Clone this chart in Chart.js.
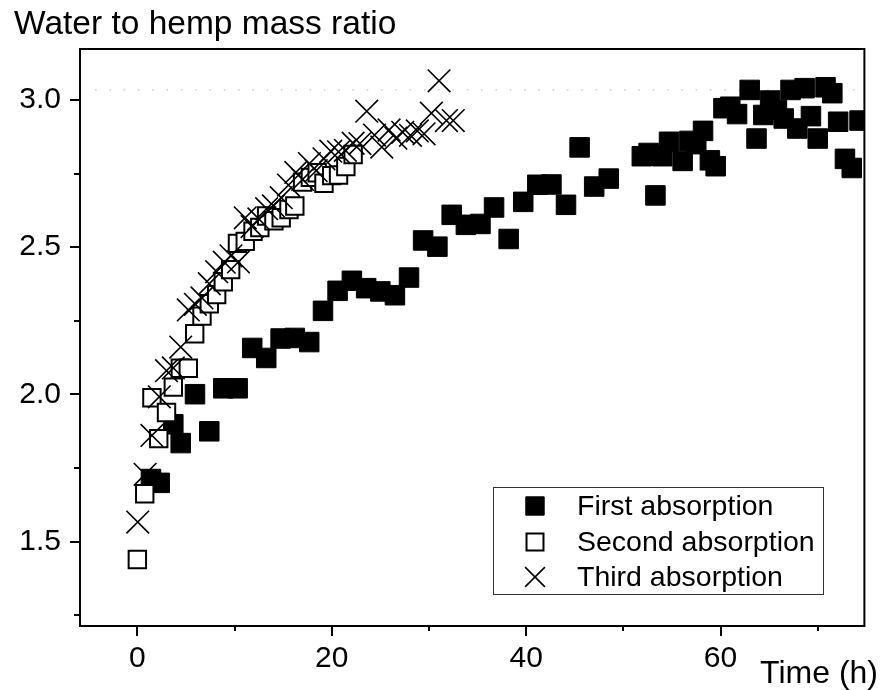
<!DOCTYPE html>
<html>
<head>
<meta charset="utf-8">
<script src="https://cdn.jsdelivr.net/npm/chart.js@4"></script>
<style>
  html, body { margin: 0; padding: 0; background: #ffffff; }
  #wrap { width: 882px; height: 690px; position: relative; }
</style>
</head>
<body>
<div id="wrap"><canvas id="c" width="882" height="690"></canvas></div>
<script>
// ---- Data ----
const chartTitle = 'Water to hemp mass ratio';
const xAxisTitle = 'Time (h)';
const seriesNames = ['First absorption', 'Second absorption', 'Third absorption'];

const firstX = [1.4, 2.3, 3.7, 4.46, 5.93, 7.4, 8.84, 10.32, 11.82, 13.26, 14.74, 16.2, 17.68, 19.1, 20.6, 22.07, 23.54, 25.0, 26.5, 27.95, 29.4, 30.87, 32.34, 33.8, 35.3, 36.7, 38.2, 39.7, 41.15, 42.6, 44.1, 45.5, 47.0, 48.5, 51.9, 52.6, 53.3, 54.0, 54.7, 56.1, 56.8, 57.5, 58.2, 58.9, 59.5, 60.3, 61.0, 61.7, 63.0, 63.7, 64.4, 65.1, 65.8, 66.5, 67.2, 67.9, 68.65, 69.3, 70.0, 70.8, 71.5, 72.1, 72.8, 73.5, 74.3];
const firstY = [1.713, 1.70, 1.899, 1.835, 2.001, 1.875, 2.021, 2.021, 2.158, 2.124, 2.19, 2.192, 2.178, 2.284, 2.352, 2.386, 2.361, 2.35, 2.337, 2.397, 2.523, 2.502, 2.61, 2.576, 2.579, 2.635, 2.528, 2.654, 2.712, 2.713, 2.644, 2.839, 2.706, 2.733, 2.809, 2.82, 2.676, 2.809, 2.858, 2.793, 2.861, 2.85, 2.895, 2.795, 2.775, 2.972, 2.977, 2.952, 3.034, 2.869, 2.949, 2.998, 2.966, 2.937, 3.034, 2.903, 3.04, 2.945, 2.869, 3.043, 3.023, 2.926, 2.80, 2.769, 2.93];

const secondX = [0, 0.76, 1.5, 2.2, 3.0, 3.7, 4.42, 5.24, 5.9, 6.65, 7.4, 8.16, 8.84, 9.6, 10.3, 11.1, 11.9, 12.6, 13.3, 14.05, 14.8, 15.6, 16.2, 17.0, 17.8, 18.5, 19.2, 20.0, 20.7, 21.45, 22.2];
const secondY = [1.44, 1.663, 1.989, 1.85, 1.939, 2.025, 2.089, 2.089, 2.206, 2.266, 2.308, 2.339, 2.383, 2.424, 2.513, 2.52, 2.554, 2.567, 2.606, 2.59, 2.60, 2.628, 2.64, 2.721, 2.737, 2.753, 2.717, 2.743, 2.745, 2.774, 2.815];

const thirdX = [0.04, 0.8, 1.5, 2.26, 3.0, 3.7, 4.46, 5.24, 5.97, 6.65, 7.4, 8.16, 8.94, 9.63, 10.4, 11.1, 11.8, 12.5, 13.3, 14.0, 14.8, 15.55, 16.3, 17.0, 17.7, 18.4, 19.2, 19.9, 20.7, 21.4, 22.2, 22.9, 23.6, 24.4, 25.15, 25.9, 26.6, 27.3, 28.1, 28.8, 29.5, 30.25, 31.04, 31.8, 32.5];
const thirdY = [1.567, 1.729, 1.861, 1.992, 2.081, 2.09, 2.161, 2.287, 2.306, 2.328, 2.376, 2.417, 2.449, 2.471, 2.45, 2.60, 2.57, 2.596, 2.631, 2.64, 2.668, 2.711, 2.754, 2.73, 2.784, 2.76, 2.80, 2.826, 2.824, 2.829, 2.853, 2.852, 2.962, 2.881, 2.84, 2.898, 2.87, 2.89, 2.88, 2.895, 2.885, 2.955, 3.065, 2.93, 2.93];

// dotted reference line near the top
const refLineX = [-4.35, 74.6];
const refLineY = [3.034, 3.034];

// axis ranges and ticks
const xMin = -5.9, xMax = 74.8, xMajor = 20, xMinorTicks = [10, 30, 50, 70];
const yMin = 1.214, yMax = 3.173, yMajor = 0.5, yMinorTicks = [1.25, 1.75, 2.25, 2.75];

const FONT = "'Liberation Sans', Arial, Helvetica, sans-serif";
const toPts = (xs, ys) => xs.map((x, i) => ({ x: x, y: ys[i] }));

// ---- plugins ----
const framePlugin = {
  id: 'frame',
  afterDraw(chart) {
    const { ctx, chartArea: a, scales } = chart;
    ctx.save();
    // frame
    ctx.strokeStyle = '#000';
    ctx.lineWidth = 2;
    ctx.strokeRect(a.left, a.top, a.right - a.left, a.bottom - a.top);
    // minor ticks
    ctx.lineWidth = 2;
    ctx.beginPath();
    xMinorTicks.forEach(v => {
      const px = Math.round(scales.x.getPixelForValue(v));
      ctx.moveTo(px, a.bottom); ctx.lineTo(px, a.bottom + 5);
    });
    yMinorTicks.forEach(v => {
      const py = Math.round(scales.y.getPixelForValue(v));
      ctx.moveTo(a.left, py); ctx.lineTo(a.left - 6, py);
    });
    ctx.stroke();
    // title text
    ctx.fillStyle = '#000';
    ctx.textBaseline = 'alphabetic';
    ctx.textAlign = 'left';
    ctx.font = '33.5px ' + FONT;
    ctx.fillText(chartTitle, 14, 34);
    ctx.font = '32px ' + FONT;
    ctx.textAlign = 'right';
    ctx.fillText(xAxisTitle, 878, 683);
    // legend
    const bx = 493.5, by = 487.5, bw = 330, bh = 107;
    ctx.fillStyle = '#fff';
    ctx.fillRect(bx, by, bw, bh);
    ctx.strokeStyle = '#333';
    ctx.lineWidth = 1;
    ctx.strokeRect(bx, by, bw, bh);
    const rows = [506, 542, 577];
    const dsIdx = [0, 1, 2];
    const legendRadius = [13, 12, 14];
    ctx.font = '28.5px ' + FONT;
    ctx.textAlign = 'left';
    ctx.textBaseline = 'middle';
    dsIdx.forEach((di, r) => {
      const ds = chart.data.datasets[di];
      ctx.save();
      ctx.fillStyle = ds.backgroundColor;
      ctx.strokeStyle = ds.borderColor;
      ctx.lineWidth = ds.borderWidth;
      Chart.helpers.drawPoint(ctx, { pointStyle: ds.pointStyle, radius: legendRadius[r], rotation: 0, borderWidth: ds.borderWidth }, 535, rows[r]);
      ctx.restore();
      ctx.fillStyle = '#000';
      ctx.fillText(ds.label, 577, rows[r] + 1);
    });
    ctx.restore();
  }
};

new Chart(document.getElementById('c'), {
  type: 'scatter',
  data: {
    datasets: [
      {
        label: seriesNames[0],
        data: toPts(firstX, firstY),
        pointStyle: 'rect',
        pointRadius: 13.8,
        pointHoverRadius: 13.8,
        backgroundColor: '#000',
        borderColor: '#000',
        borderWidth: 1,
        order: 3
      },
      {
        label: seriesNames[1],
        data: toPts(secondX, secondY),
        pointStyle: 'rect',
        pointRadius: 12.3,
        pointHoverRadius: 12.3,
        backgroundColor: '#fff',
        borderColor: '#000',
        borderWidth: 2,
        order: 2
      },
      {
        label: seriesNames[2],
        data: toPts(thirdX, thirdY),
        pointStyle: 'crossRot',
        pointRadius: 16,
        pointHoverRadius: 16,
        backgroundColor: '#000',
        borderColor: '#000',
        borderWidth: 1.6,
        order: 1
      },
      {
        type: 'line',
        label: 'ref',
        data: toPts(refLineX, refLineY),
        borderColor: '#b0b0b0',
        borderWidth: 1,
        borderDash: [1.5, 12.8],
        pointRadius: 0,
        fill: false,
        order: 10
      }
    ]
  },
  options: {
    responsive: false,
    animation: false,
    devicePixelRatio: 1,
    layout: { padding: { top: 49, right: 17, left: 0, bottom: 0 } },
    plugins: {
      legend: { display: false },
      title: { display: false },
      tooltip: { enabled: false }
    },
    scales: {
      x: {
        type: 'linear',
        min: xMin, max: xMax,
        afterFit: s => { s.height = 64; },
        border: { display: true, color: '#000', width: 2 },
        grid: { drawOnChartArea: false, drawTicks: true, tickLength: 10, color: '#000', lineWidth: 2 },
        ticks: {
          stepSize: xMajor, includeBounds: false, autoSkip: false, maxRotation: 0,
          padding: 5, color: '#000', font: { family: FONT, size: 30 },
          callback: v => String(v)
        }
      },
      y: {
        type: 'linear',
        min: yMin, max: yMax,
        afterFit: s => { s.width = 80; },
        border: { display: true, color: '#000', width: 2 },
        grid: { drawOnChartArea: false, drawTicks: true, tickLength: 10, color: '#000', lineWidth: 2 },
        ticks: {
          stepSize: yMajor, includeBounds: false, autoSkip: false,
          padding: 9, color: '#000', font: { family: FONT, size: 30 },
          callback: v => Number(v).toFixed(1)
        }
      }
    }
  },
  plugins: [framePlugin]
});
</script>
</body>
</html>
